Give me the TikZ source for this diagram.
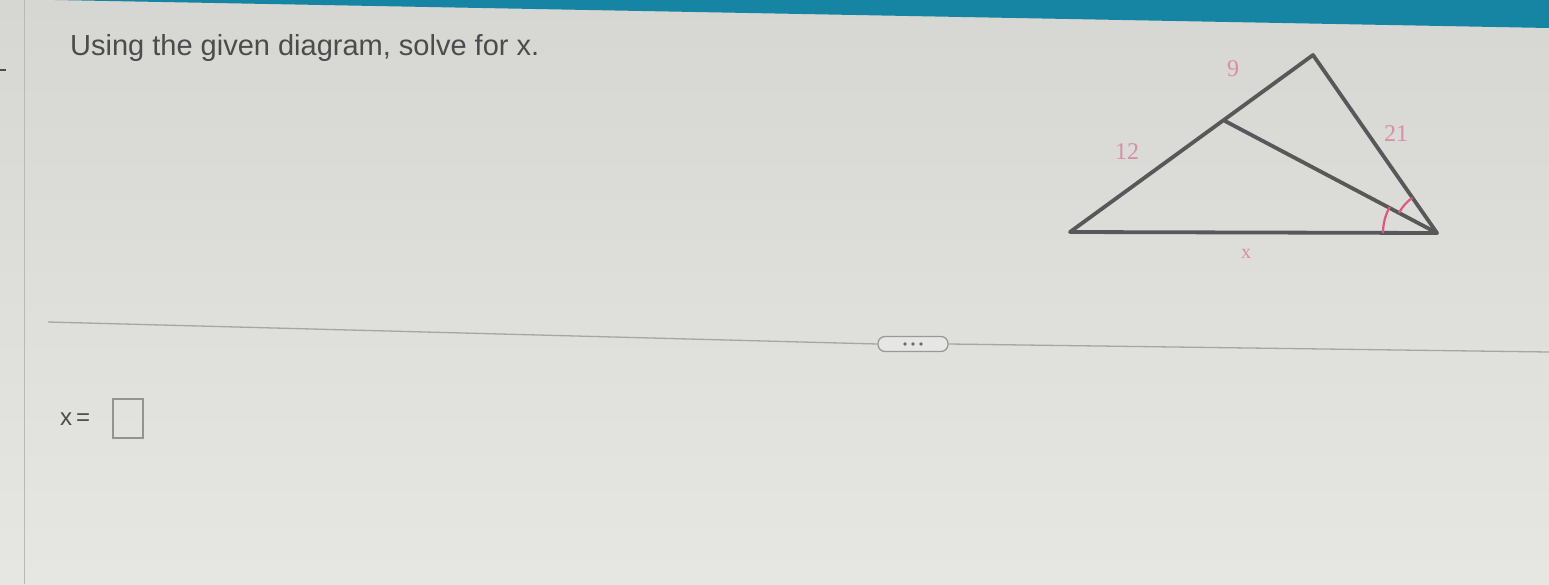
\documentclass[tikz,border=0pt]{standalone}
\usepackage{fontspec}
\setmainfont{Liberation Sans}
\newfontfamily\numfont{Liberation Serif}
\usetikzlibrary{calc}
\definecolor{bgtop}{HTML}{D6D6D3}
\definecolor{bgbot}{HTML}{E6E6E3}
\definecolor{teal}{HTML}{1585A3}
\definecolor{tri}{HTML}{58585A}
\definecolor{lbl}{HTML}{D98DAA}
\definecolor{arcred}{HTML}{E0587A}
\definecolor{txt}{HTML}{4C4C4E}
\tikzset{
  side/.style={draw=tri, line width=3.8pt, line join=round, line cap=round},
  numlbl/.style={text=lbl, font=\numfont\fontsize{24}{26}\selectfont, inner sep=0pt},
  anglearc/.style={draw=arcred, line width=2.2pt},
  sep/.style={draw=gray!70, line width=1.3pt}
}
\begin{document}
\begin{tikzpicture}[x=1pt,y=1pt]
\useasboundingbox (0,0) rectangle (1549,-584);
\shade[top color=bgtop, bottom color=bgbot] (0,0) rectangle (1549,-584);
% teal band
\fill[teal] (55,0) -- (1549,0) -- (1549,-28) -- cycle;
% left faint border
\draw[gray!55, line width=1pt] (24,0) -- (24,-584);
\draw[black!70, line width=2pt] (0,-70) -- (6,-70);
% title
\node[anchor=base west, text=txt, font=\fontsize{29}{34}\selectfont, inner sep=0pt] (title) at (70,-55) {Using the given diagram, solve for x.};
% triangle
\coordinate (A) at (1070,-232);
\coordinate (B) at (1313,-55);
\coordinate (C) at (1437,-233);
\coordinate (D) at (1225,-121);
\draw[side] (A) -- (B) -- (C) -- cycle;
\draw[side] (D) -- (C);
\draw[anglearc] ([shift={(151:54)}]C) arc[start angle=151, end angle=180, radius=54];
\draw[anglearc] ([shift={(125:43)}]C) arc[start angle=125, end angle=152, radius=43];
\node[numlbl] (l9) at (1233,-69) {9};
\node[numlbl] (l12) at (1127,-152) {12};
\node[numlbl] (l21) at (1396,-134) {21};
\node[numlbl, font=\numfont\fontsize{20}{22}\selectfont] (lx) at (1246,-254) {x};
% separator with button
\node[draw=gray!80, line width=1.3pt, rounded corners=7pt, minimum width=70pt, minimum height=15pt, inner sep=0pt, fill=bgtop!60!white] (btn) at (913,-344) {};
\foreach \dx in {-8,0,8} \fill[gray!85!black] ($(btn.center)+(\dx,0)$) circle (1.8);
\coordinate (sl) at (48,-322);
\coordinate (sr) at (1549,-352);
\draw[sep] (sl) -- (btn.west);
\draw[sep] (btn.east) -- (sr);
% answer
\node[anchor=base west, text=txt, font=\fontsize{24}{28}\selectfont, inner sep=0pt] (xeq) at (60,-425) {x\,=};
\node[draw=gray!85, line width=1.5pt, minimum width=30pt, minimum height=39pt, inner sep=0pt, anchor=north west] (box) at (112,-398) {};
\end{tikzpicture}
\end{document}
